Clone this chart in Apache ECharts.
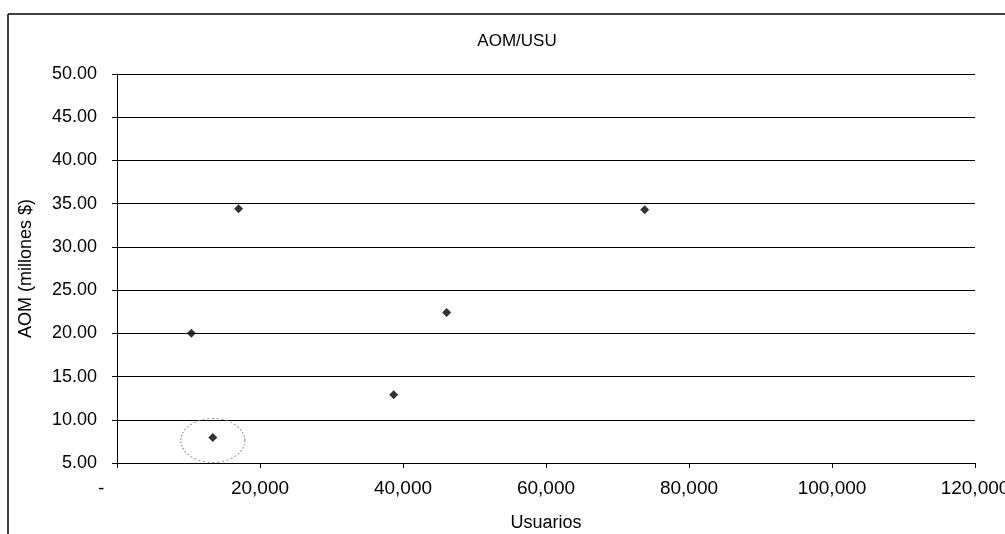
<!DOCTYPE html>
<html>
<head>
<meta charset="utf-8">
<script src="https://cdn.jsdelivr.net/npm/echarts@6/dist/echarts.min.js"></script>
<style>
html,body{margin:0;padding:0;background:#fff;}
#chart{width:1005px;height:534px;}
</style>
</head>
<body>
<div id="chart"></div>
<script>
const titleText = 'AOM/USU';
const xAxisName = 'Usuarios';
const yAxisName = 'AOM (millones $)';
const usuarios = [10400, 13400, 17000, 38700, 46100, 73800];
const aom = [20.0, 7.95, 34.4, 12.9, 22.4, 34.3];
const highlightedIndex = 1;

const points = usuarios.map((u, i) => [u, aom[i]]);
const highlighted = [points[highlightedIndex]];

const chart = echarts.init(document.getElementById('chart'));
const font = 'Liberation Sans, Arial, sans-serif';
chart.setOption({
  animation: false,
  backgroundColor: '#fff',
  title: {
    text: titleText,
    left: 512, top: 28, textAlign: 'center',
    textStyle: {fontFamily: font, fontSize: 17, fontWeight: 'normal', color: '#000'}
  },
  graphic: [
    {type: 'line', shape: {x1: 8, y1: 14, x2: 1005, y2: 14}, style: {stroke: '#000', lineWidth: 1.5}},
    {type: 'line', shape: {x1: 8, y1: 14, x2: 8, y2: 534}, style: {stroke: '#000', lineWidth: 1.5}}
  ],
  grid: {left: 117, right: 30, top: 74, bottom: 71, containLabel: false, outerBoundsMode: 'none'},
  xAxis: {
    type: 'value', min: 0, max: 120000, interval: 20000,
    name: xAxisName, nameLocation: 'middle', nameGap: 51,
    nameTextStyle: {fontFamily: font, fontSize: 18, color: '#000'},
    axisLine: {show: true, lineStyle: {color: '#000', width: 1}},
    axisTick: {show: true, length: 5, lineStyle: {color: '#000'}},
    axisLabel: {
      margin: 16, fontFamily: font, fontSize: 19, color: '#000',
      formatter: v => v === 0 ? '-      ' : v.toLocaleString('en-US')
    },
    splitLine: {show: false}
  },
  yAxis: {
    type: 'value', min: 5, max: 50, interval: 5,
    name: yAxisName, nameLocation: 'middle', nameGap: 82,
    nameTextStyle: {fontFamily: font, fontSize: 18, color: '#000'},
    axisLine: {show: true, lineStyle: {color: '#000', width: 1}},
    axisTick: {show: true, length: 5, lineStyle: {color: '#000'}},
    axisLabel: {
      margin: 20, fontFamily: font, fontSize: 18, color: '#000',
      formatter: v => v.toFixed(2)
    },
    splitLine: {show: true, lineStyle: {color: '#000', width: 1}}
  },
  series: [
    {
      type: 'scatter', data: points, symbol: 'diamond', symbolSize: 9,
      itemStyle: {color: '#000'}, z: 3
    },
    {
      type: 'scatter', data: highlighted, symbol: 'circle', symbolSize: [64, 44],
      symbolOffset: [0, 3], silent: true,
      itemStyle: {color: 'rgba(0,0,0,0)', borderColor: '#777', borderWidth: 1, borderType: [2, 2]},
      z: 2
    }
  ]
});
</script>
</body>
</html>
